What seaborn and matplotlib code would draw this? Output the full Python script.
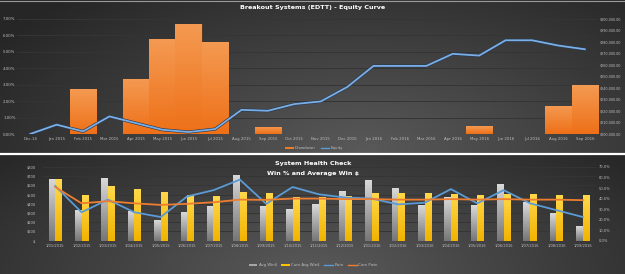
import numpy as np
import pandas as pd
import matplotlib
matplotlib.use("Agg")
import matplotlib.pyplot as plt
import seaborn as sns
import matplotlib.patheffects as pe
from matplotlib.colors import LinearSegmentedColormap, to_rgb
from matplotlib.ticker import FuncFormatter, MultipleLocator
from matplotlib.lines import Line2D
from matplotlib.patches import Patch

# ---------------- data: equity curve ----------------
months = ["Dec-14", "Jan 2015", "Feb 2015", "Mar 2015", "Apr 2015", "May 2015",
          "Jun 2015", "Jul 2015", "Aug 2015", "Sep 2015", "Oct 2015", "Nov 2015",
          "Dec 2015", "Jan 2016", "Feb 2016", "Mar 2016", "Apr 2016", "May 2016",
          "Jun 2016", "Jul 2016", "Aug 2016", "Sep 2016"]
drawdown = [0, 0, 2.73, 0, 3.36, 5.77, 6.70, 5.63, 0, 0.45, 0, 0,
            0, 0, 0, 0, 0, 0.47, 0, 0, 1.72, 2.96]  # percent
equity = [200000, 208100, 202300, 215300, 209500, 203700, 201700, 204300,
          221000, 220200, 226000, 228300, 240800, 259200, 259200, 259200,
          269700, 268200, 281500, 281500, 276900, 273700]

# ---------------- data: system health ----------------
dates = ["1/01/2015", "1/02/2015", "1/03/2015", "1/04/2015", "1/05/2015", "1/06/2015",
         "1/07/2015", "1/08/2015", "1/09/2015", "1/10/2015", "1/11/2015", "1/12/2015",
         "1/01/2016", "1/02/2016", "1/03/2016", "1/04/2016", "1/05/2016", "1/06/2016",
         "1/07/2016", "1/08/2016", "1/09/2016"]
avg_win = [667, 331, 677, 324, 223, 310, 375, 717, 375, 342, 396,
           537, 656, 569, 386, 476, 386, 616, 422, 303, 159]
cum_avg_win = [667, 501, 591, 558, 533, 494, 483, 526, 519, 479, 472,
               486, 515, 519, 519, 505, 501, 505, 508, 497, 497]
pwin = [52, 27, 39, 27, 22.5, 42, 48, 58, 35, 51, 44,
        41, 40, 34.5, 36, 49, 35.5, 48, 35.5, 29, 22.5]
cum_pwin = [51, 35.5, 37.5, 35.5, 34, 35, 36.5, 39, 38.8, 40, 40,
            39.5, 39.5, 39, 39, 39.5, 39, 39.5, 39, 39, 38.5]

TXT = "#bfbfbf"
GRID = "#353535"
BLUE = "#5b9bd5"
ORANGE = "#ed7d31"

plt.rcParams["font.family"] = ["DejaVu Sans"]

W, H = 625, 274
fig = plt.figure(figsize=(W / 100, H / 100), dpi=100)

# background gradient (two panels)
yy, xx = np.mgrid[0:H, 0:W].astype(float)


def radial(cx, cy, rx, ry, inner, outer):
    t = np.clip(np.sqrt(((xx - cx) / rx) ** 2 + ((yy - cy) / ry) ** 2), 0, 1)
    t = t[..., None]
    return np.array(to_rgb(inner)) * (1 - t) + np.array(to_rgb(outer)) * t


bg = radial(0.58 * W, 150, 430, 210, "#595959", "#262626")
bot = radial(0.5 * W, 274, 420, 170, "#5a5a5a", "#282828")
bg[155:] = bot[155:]
bg_ax = fig.add_axes([0, 0, 1, 1], zorder=-10)
bg_ax.imshow(bg, extent=[0, 1, 0, 1], aspect="auto")
bg_ax.axis("off")
fig.add_artist(Line2D([0, 1], [1 - 154 / H] * 2, color="white", lw=1.6))
fig.add_artist(Line2D([0, 1], [1 - 0.5 / H] * 2, color="#9a9a9a", lw=0.8))


def gradient_bars(ax, patches, top, bottom):
    cmap = LinearSegmentedColormap.from_list("g", [bottom, top])
    grad = np.linspace(0, 1, 64).reshape(-1, 1)
    for p in patches:
        x0, y0, w, h = p.get_x(), p.get_y(), p.get_width(), p.get_height()
        if h <= 0:
            continue
        im = ax.imshow(grad, extent=[x0, x0 + w, y0, y0 + h], origin="lower",
                       aspect="auto", cmap=cmap, zorder=p.get_zorder())
        im.set_clip_path(p)
        p.set_facecolor("none")


def style_axes(ax):
    ax.set_facecolor("none")
    for s in ax.spines.values():
        s.set_visible(False)
    ax.tick_params(length=0, colors=TXT)
    ax.set_xlabel("")
    ax.set_ylabel("")


# ---------------- top: equity curve ----------------
n = len(months)
ax = fig.add_axes([17 / W, 1 - 134 / H, 581 / W, 115 / H])
sns.barplot(x=months, y=drawdown, color="#f07a22", width=1.0, saturation=1,
            edgecolor="#6b3a14", linewidth=0.4, ax=ax)
gradient_bars(ax, ax.containers[0], "#f49a52", "#ee7018")
style_axes(ax)
ax.set_xlim(-0.5, n - 0.5)
ax.set_ylim(0, 7)
ax.yaxis.set_major_locator(MultipleLocator(1))
ax.yaxis.set_major_formatter(FuncFormatter(lambda v, _: f"{v:.2f}%"))
ax.yaxis.grid(True, color=GRID, lw=0.7)
ax.set_axisbelow(True)
ax.axhline(0, color="#8a8a8a", lw=0.6, zorder=5)
ax.tick_params(axis="x", labelsize=2.8, pad=2.5)
ax.tick_params(axis="y", labelsize=2.8, pad=1)

ax2 = ax.twinx()
sns.lineplot(x=np.arange(n), y=equity, color="#7aaee6", lw=1.3, ax=ax2,
             path_effects=[pe.Stroke(linewidth=2.2, foreground="#2a3a50"), pe.Normal()])
style_axes(ax2)
ax2.set_xlim(-0.5, n - 0.5)
ax2.set_ylim(200000, 300000)
ax2.yaxis.set_major_locator(MultipleLocator(10000))
ax2.yaxis.set_major_formatter(FuncFormatter(lambda v, _: f"${v:,.2f}"))
ax2.tick_params(axis="y", labelsize=2.4, pad=1.5)

fig.text(313 / W, 1 - 8 / H, "Breakout Systems (EDTT) - Equity Curve", color="white",
         fontsize=4.6, fontweight="bold", ha="center", va="center")
fig.legend(handles=[Patch(facecolor="#f07a22", label="Drawdown"),
                    Line2D([], [], color=BLUE, lw=1, label="Equity")],
           loc="center", bbox_to_anchor=(314 / W, 1 - 148 / H), ncol=2, frameon=False,
           fontsize=2.8, labelcolor=TXT, handlelength=2.2, handleheight=0.5,
           handletextpad=0.3, columnspacing=1.2)

# ---------------- bottom: system health ----------------
m = len(dates)
bars = pd.DataFrame({
    "date": dates * 2,
    "value": avg_win + cum_avg_win,
    "series": ["Avg Win$"] * m + ["Cum Avg Win$"] * m,
})
bx = fig.add_axes([42 / W, 1 - 240.7 / H, 554 / W, 73.7 / H])
sns.barplot(data=bars, x="date", y="value", hue="series", width=0.5, gap=0,
            palette=["#a6a6a6", "#ffc000"], saturation=1, errorbar=None,
            legend=False, ax=bx)
gradient_bars(bx, bx.containers[0], "#d9d9d9", "#767676")
gradient_bars(bx, bx.containers[1], "#ffd84a", "#f2b300")
style_axes(bx)
bx.set_xlim(-0.5, m - 0.5)
bx.set_ylim(0, 800)
bx.yaxis.set_major_locator(MultipleLocator(100))
bx.yaxis.set_major_formatter(FuncFormatter(lambda v, _: "$-" if v == 0 else f"${v:,.0f}"))
bx.yaxis.grid(True, color=GRID, lw=0.7)
bx.set_axisbelow(True)
bx.axhline(0, color="#8a8a8a", lw=0.6, zorder=5)
bx.tick_params(axis="x", labelsize=2.6, pad=2.5)
bx.tick_params(axis="y", labelsize=2.6, pad=4)

bx2 = bx.twinx()
sns.lineplot(x=np.arange(m), y=pwin, color=BLUE, lw=1.3, ax=bx2)
sns.lineplot(x=np.arange(m), y=cum_pwin, color=ORANGE, lw=1.3, ax=bx2)
style_axes(bx2)
bx2.set_xlim(-0.5, m - 0.5)
bx2.set_ylim(0, 70)
bx2.yaxis.set_major_locator(MultipleLocator(10))
bx2.yaxis.set_major_formatter(FuncFormatter(lambda v, _: f"{v:.1f}%"))
bx2.tick_params(axis="y", labelsize=2.6, pad=2)

fig.text(313 / W, 1 - 164 / H, "System Health Check", color="white",
         fontsize=4.6, fontweight="bold", ha="center", va="center")
fig.text(313 / W, 1 - 173 / H, "Win % and Average Win $", color="white",
         fontsize=4.6, fontweight="bold", ha="center", va="center")
fig.legend(handles=[Patch(facecolor="#a6a6a6", label="Avg Win$"),
                    Patch(facecolor="#ffc000", label="Cum Avg Win$"),
                    Line2D([], [], color=BLUE, lw=1, label="Pwin"),
                    Line2D([], [], color=ORANGE, lw=1, label="Cum Pwin")],
           loc="center", bbox_to_anchor=(313 / W, 1 - 265 / H), ncol=4, frameon=False,
           fontsize=2.8, labelcolor=TXT, handlelength=2.2, handleheight=0.5,
           handletextpad=0.3, columnspacing=1.2)

fig.savefig("out.png", dpi=100)
